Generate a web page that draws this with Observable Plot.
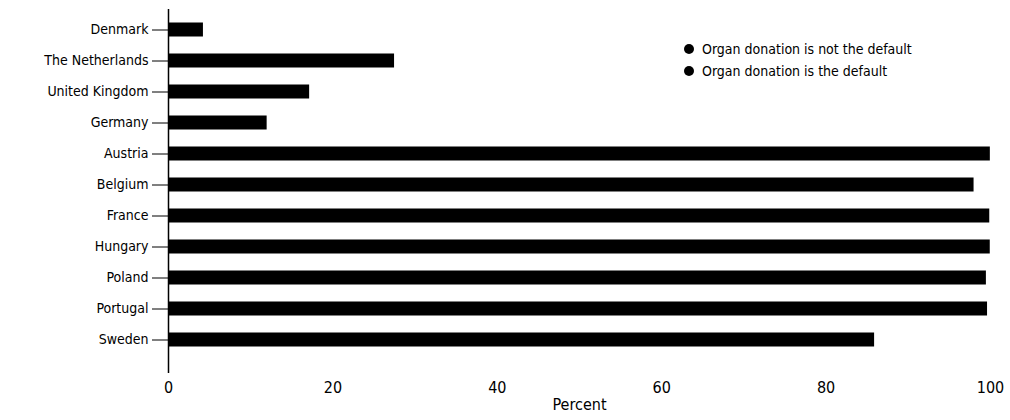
<!DOCTYPE html>
<html><head>
<meta charset="utf-8">
<script src="https://cdn.jsdelivr.net/npm/d3@7"></script>
<script src="https://cdn.jsdelivr.net/npm/@observablehq/plot@0.6"></script>
<style>
body{margin:0;background:#fff;font-family:"DejaVu Sans Condensed","DejaVu Sans",sans-serif}
#wrap{position:relative;width:1010px}
#legend{position:absolute;left:684px;top:38px;font-size:14px;line-height:22px;color:#000}
#legend span{display:inline-block;width:10px;height:10px;border-radius:50%;background:#000;margin-right:8px}
</style>
</head><body>
<div id="wrap"><div id="chart"></div>
<div id="legend"><div><span></span>Organ donation is not the default</div><div><span></span>Organ donation is the default</div></div>
</div>
<script>
const countries = ['Denmark','The Netherlands','United Kingdom','Germany','Austria','Belgium','France','Hungary','Poland','Portugal','Sweden']
const percent = [4.25, 27.5, 17.17, 12, 99.98, 98, 99.91, 99.97, 99.5, 99.64, 85.9]
const xTicks = [0, 20, 40, 60, 80, 100]
const data = countries.map((c, i) => ({country: c, value: percent[i]}))

const chart = Plot.plot({
  width: 1010,
  height: 420,
  marginLeft: 168,
  marginRight: 20,
  marginTop: 9,
  marginBottom: 61,
  style: {fontFamily: '"DejaVu Sans Condensed", sans-serif', fontSize: '14px', color: '#000'},
  x: {domain: [0, 100]},
  y: {domain: countries, padding: 0, label: null},
  marks: [
    Plot.barX(data, {y: 'country', x: 'value', fill: '#000', insetTop: 8.5, insetBottom: 8.5}),
    Plot.ruleX([0], {stroke: '#000', strokeWidth: 1.5, insetBottom: -14}),
    Plot.axisY({tickSize: 16, tickPadding: 4, label: null, fontSize: 14}),
    Plot.axisX({ticks: xTicks, tickSize: 0, tickPadding: 22, label: 'Percent', labelArrow: 'none', labelAnchor: 'center', labelOffset: 50, fontSize: 16})
  ]
})
d3.select('#chart').append(() => chart)
</script>
</body></html>
